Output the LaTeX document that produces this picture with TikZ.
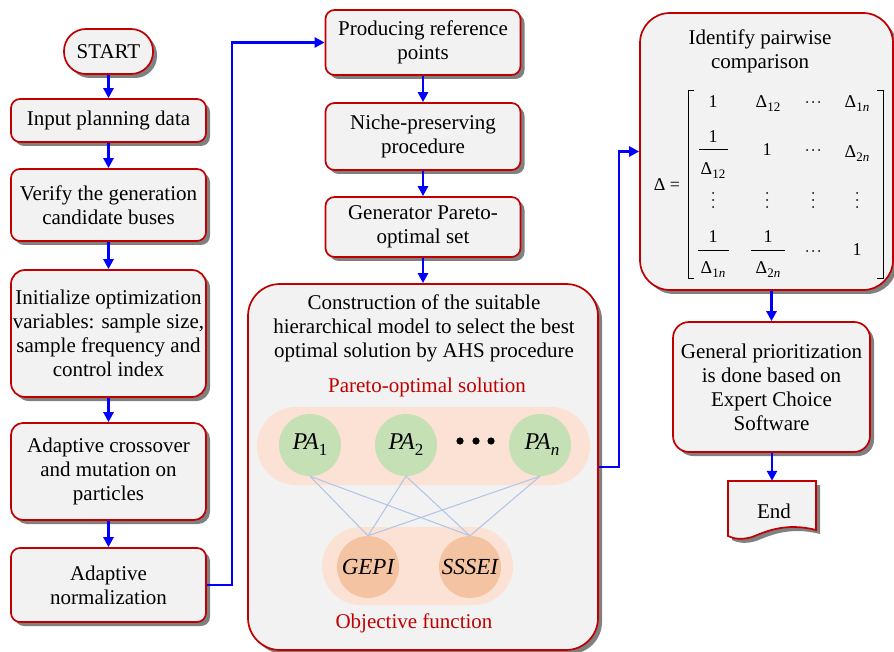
\documentclass[tikz,border=0pt]{standalone}
\usepackage{fontspec}
\setmainfont{Liberation Serif}
\usetikzlibrary{shadows,arrows.meta,calc}
\definecolor{bred}{HTML}{C00000}
\definecolor{bfill}{HTML}{F2F2F2}
\definecolor{band}{HTML}{FBE2D5}
\definecolor{pagreen}{HTML}{C5E0B4}
\definecolor{oborange}{HTML}{F4C4A2}
\definecolor{lblue}{HTML}{B4C7E7}
\newcommand{\msubx}[1]{\raisebox{-4pt}{\fontsize{13}{13}\selectfont #1}}
\tikzset{
  fbox/.style={draw=bred, line width=1.7pt, fill=bfill, rounded corners=9pt,
    drop shadow={shadow xshift=4pt, shadow yshift=-4pt, fill=black!50, opacity=1},
    align=center, inner sep=0pt, minimum width=195pt},
  arr/.style={draw=blue, line width=2.6pt, -{Triangle[length=10pt,width=10pt]}},
  pacirc/.style={circle, fill=pagreen, minimum size=62pt, inner sep=0pt, font=\fontsize{24}{26}\selectfont\itshape},
  obcirc/.style={circle, fill=oborange, minimum size=62pt, inner sep=0pt, font=\fontsize{23}{26}\selectfont\itshape},
  link/.style={draw=lblue, line width=1.1pt},
  mtx/.style={font=\fontsize{18}{20}\selectfont, inner sep=0pt},
  redlbl/.style={text=bred},
  mdot/.style={fill=black, draw=none}
}
\begin{document}
\begin{tikzpicture}[x=1pt,y=-1pt, font=\fontsize{21}{24}\selectfont]
\useasboundingbox (0,0) rectangle (894,652);

% left column
\node[fbox, minimum width=89pt, minimum height=45pt, rounded corners=22pt] (start) at (108.5,51.5) {START};
\node[fbox, minimum height=43pt] (input) at (108.5,120.5) {Input planning data};
\node[fbox, minimum height=72pt] (verify) at (108.5,205) {Verify the generation\\candidate buses};
\node[fbox, minimum height=127pt, rounded corners=14pt] (init) at (108.5,333.5) {Initialize optimization\\variables: sample size,\\sample frequency and\\control index};
\node[fbox, minimum height=97pt, rounded corners=12pt] (cross) at (108.5,471.5) {Adaptive crossover\\and mutation on\\particles};
\node[fbox, minimum height=74pt] (norm) at (108.5,585) {Adaptive\\normalization};

% middle column
\node[fbox, minimum height=65pt] (prod) at (423,42.5) {Producing reference\\points};
\node[fbox, minimum height=67pt] (niche) at (423,136.5) {Niche-preserving\\procedure};
\node[fbox, minimum height=60pt] (gen) at (423,227) {Generator Pareto-\\optimal set};
\node[fbox, minimum width=350pt, minimum height=366pt, rounded corners=32pt] (big) at (423,467) {};
\node[align=center, inner sep=0pt] (bigtxt) at (424,328) {Construction of the suitable\\hierarchical model to select the best\\optimal solution by AHS procedure};
\node[redlbl, inner sep=0pt] (paretolbl) at (427,387) {Pareto-optimal solution};
\node[fill=band, rounded corners=39pt, minimum width=333pt, minimum height=78pt, inner sep=0pt] (paband) at (423.5,446) {};
\node[fill=band, rounded corners=39pt, minimum width=191pt, minimum height=78pt, inner sep=0pt] (obband) at (417.5,566) {};
\node[pacirc] (pa1) at (310,445) {PA\raisebox{-6pt}{\fontsize{17}{17}\selectfont\upshape 1}};
\node[pacirc] (pa2) at (406,445) {PA\raisebox{-6pt}{\fontsize{17}{17}\selectfont\upshape 2}};
\node[pacirc] (pan) at (540,445) {\,PA\raisebox{-6pt}{\fontsize{17}{17}\selectfont n}};
\fill[mdot] (460,441) circle (3.6pt) (476,441) circle (3.6pt) (491,441) circle (3.6pt);
\node[obcirc] (gepi) at (368,567) {GEPI};
\node[obcirc] (sssei) at (470,567) {SSSEI};
\node[redlbl, inner sep=0pt] (objlbl) at (414,623) {Objective function};

% right column
\node[fbox, minimum width=253pt, minimum height=277pt, rounded corners=30pt] (ident) at (766.5,151.5) {};
\node[align=center, inner sep=0pt] (identtxt) at (760,51.5) {Identify pairwise\\comparison};
\node[fbox, minimum width=197pt, minimum height=130pt, rounded corners=16pt] (gp) at (771.5,387) {General prioritization\\is done based on\\Expert Choice\\Software};
\draw[draw=bred, line width=1.7pt, fill=bfill,
  drop shadow={shadow xshift=4pt, shadow yshift=-4pt, fill=black!50, opacity=1}]
  (728,481) -- (816,481) -- (816,530) .. controls (785,522) and (765,532) .. (752,537)
  .. controls (742,540) and (734,539) .. (728,536) -- cycle;
\node[minimum width=88pt, minimum height=50pt, inner sep=0pt] (endn) at (772,506) {};
\node[inner sep=0pt] at (774,511) {End};

% links between PA and objectives
\foreach \p in {pa1,pa2,pan}{
  \draw[link] (\p.south) -- (gepi.north);
  \draw[link] (\p.south) -- (sssei.north);
}

% matrix
\node[mtx] (deltaeq) at (667,185) {Δ =};
\draw[line width=0.8pt] (694,90) -- (688,90) -- (688,278) -- (694,278);
\draw[line width=0.8pt] (877,90) -- (883,90) -- (883,278) -- (877,278);
\node[mtx] (m11) at (713,102) {1};
\node[mtx] (m12) at (768,104) {Δ\msubx{12}};
\node[mtx] (m14) at (857,104) {Δ\msubx{1\textit{n}}};
\node[mtx] (m21n) at (713,137) {1};
\draw[line width=0.8pt] (699,149) -- (728,149);
\node[mtx] (m21d) at (713,171) {Δ\msubx{12}};
\node[mtx] (m22) at (767,150) {1};
\node[mtx] (m24) at (857,154) {Δ\msubx{2\textit{n}}};
\node[mtx] (m41n) at (713,237) {1};
\draw[line width=0.8pt] (698,250) -- (729,250);
\node[mtx] (m41d) at (713,270) {Δ\msubx{1\textit{n}}};
\node[mtx] (m42n) at (768,237) {1};
\draw[line width=0.8pt] (751,250) -- (785,250);
\node[mtx] (m42d) at (768,270) {Δ\msubx{2\textit{n}}};
\node[mtx] (m44) at (857,250) {1};
\foreach \yy in {102,150,251}{
  \fill (807,\yy) circle (1pt) (813,\yy) circle (1pt) (819,\yy) circle (1pt);
}
\foreach \xx in {713,767,813,857}{
  \fill (\xx,193) circle (1pt) (\xx,200) circle (1pt) (\xx,207) circle (1pt);
}

% connectors
\draw[arr] (start) -- (input);
\draw[arr] (input) -- (verify);
\draw[arr] (verify) -- (init);
\draw[arr] (init) -- (cross);
\draw[arr] (cross) -- (norm);
\draw[arr] (norm.east) -- ++(25,0) |- (prod.west);
\draw[arr] (prod) -- (niche);
\draw[arr] (niche) -- (gen);
\draw[arr] (gen) -- (big);
\draw[arr] (big.east) -- ++(20,0) |- (ident.west);
\draw[arr] (gp.north |- ident.south) -- (gp.north);
\draw[arr] (gp.south -| endn.north) -- (endn.north);
\end{tikzpicture}
\end{document}
